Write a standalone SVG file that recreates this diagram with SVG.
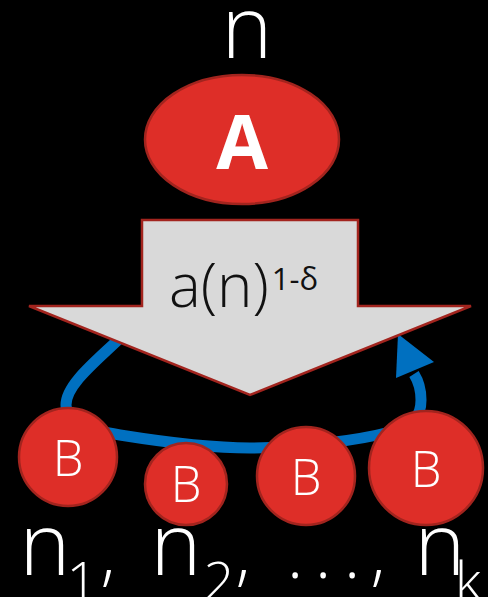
<svg xmlns="http://www.w3.org/2000/svg" width="488" height="597" viewBox="0 0 488 597">
<style>
.bg{fill:#000}
.red{fill:#DE2E28;stroke:#A2241E;stroke-width:2.5}
.t{font-family:"Open Sans","Liberation Sans",sans-serif;fill:#fff;text-anchor:middle}
.lt{font-weight:300}
.blk{fill:#D9D9D9;stroke:#A2241E;stroke-width:2.5}
.loop{fill:none;stroke:#0070C0;stroke-width:11}
</style>
<rect class="bg" x="0" y="0" width="488" height="597"/>
<g id="connectors">
<path class="loop" d="M 118 340 C 95 362, 66 385, 66 405 C 66 425, 90 430, 120 435 C 170 443, 210 448, 250 448 C 300 448, 360 440, 390 432 C 415 425, 421 415, 421 400 C 421 390, 419 382, 414 374"/>
<polygon fill="#0070C0" points="398,334 396,378 434,362"/>
</g>
<g id="label-n">
<text class="t lt" x="247" y="58" font-size="86">n</text>
</g>
<g id="nodeA">
<ellipse class="red" cx="242" cy="139.5" rx="97" ry="64.5"/>
<text class="t" x="242" y="169" font-size="75" font-weight="bold">A</text>
</g>
<g id="arrow">
<polygon class="blk" points="142,220 358,220 358,306 471,306 250,395 29,306 142,306"/>
<text font-family="'Open Sans','Liberation Sans',sans-serif" font-weight="300" fill="#111" x="169" y="307" font-size="60">a(n)<tspan font-size="31" font-weight="400" dx="3" dy="-17">1-δ</tspan></text>
</g>
<g id="B1">
<circle class="red" cx="68" cy="457" r="49"/>
<text class="t lt" x="68" y="476" font-size="49">B</text>
</g>
<g id="B2">
<circle class="red" cx="186" cy="484" r="41"/>
<text class="t lt" x="186" y="502" font-size="49">B</text>
</g>
<g id="B3">
<circle class="red" cx="306" cy="476" r="49"/>
<text class="t lt" x="306" y="495" font-size="49">B</text>
</g>
<g id="B4">
<circle class="red" cx="426" cy="468" r="57"/>
<text class="t lt" x="426" y="487" font-size="49">B</text>
</g>
<g id="label-ns">
<text class="t lt" x="45" y="575" font-size="86">n</text>
<text class="t lt" x="82" y="600" font-size="54">1</text>
<text class="t lt" x="108" y="578" font-size="70">,</text>
<text class="t lt" x="176" y="575" font-size="86">n</text>
<text class="t lt" x="219" y="600" font-size="54">2</text>
<text class="t lt" x="243" y="578" font-size="70">,</text>
<text class="t lt" x="295" y="578" font-size="70">.</text>
<text class="t lt" x="323" y="578" font-size="70">.</text>
<text class="t lt" x="352" y="578" font-size="70">.</text>
<text class="t lt" x="378" y="578" font-size="70">,</text>
<text class="t lt" x="440" y="575" font-size="86">n</text>
<text class="t lt" x="468" y="600" font-size="54" text-anchor="start">k</text>
</g>
</svg>
